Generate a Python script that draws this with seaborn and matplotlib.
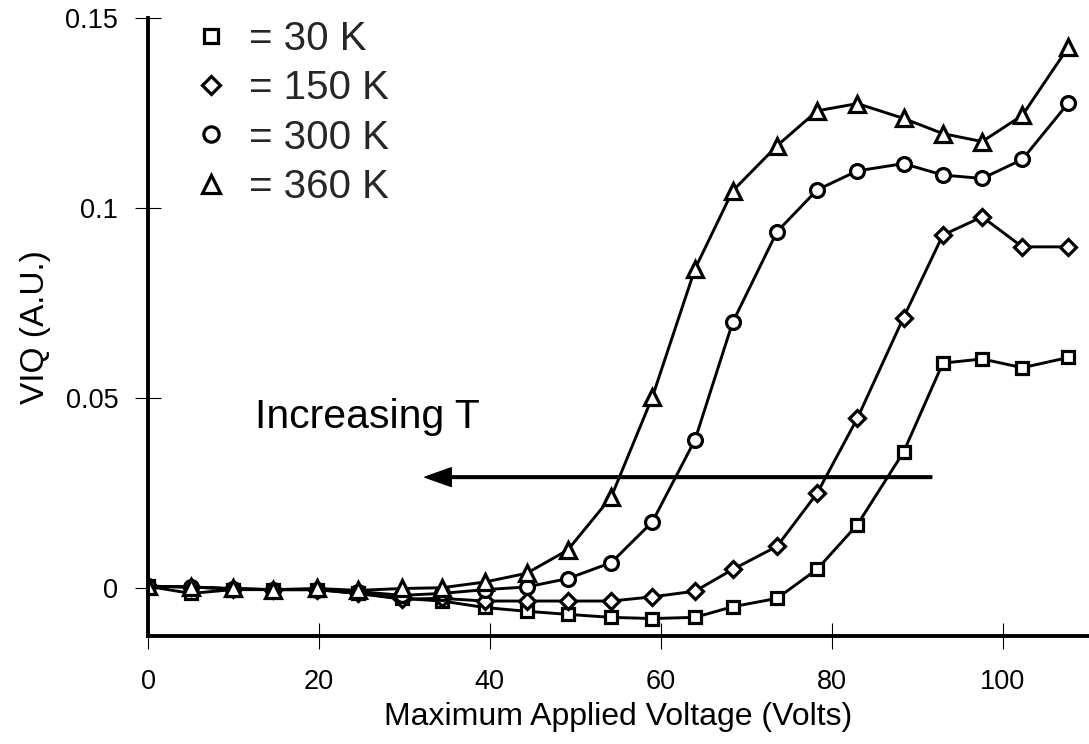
import matplotlib
matplotlib.use("Agg")
import matplotlib.pyplot as plt
import seaborn as sns
import pandas as pd

voltage = [0, 5, 9.9, 14.6, 19.8, 24.6, 29.7, 34.4, 39.4, 44.3, 49.1, 54.2,
           59.0, 64.0, 68.4, 73.6, 78.3, 83.0, 88.4, 93.0, 97.6, 102.3, 107.7]

viq_30k = [0.0004, -0.0015, -0.0005, -0.0005, -0.0005, -0.0015, -0.0028, -0.0035,
           -0.0052, -0.0062, -0.0070, -0.0078, -0.0081, -0.0078, -0.0050, -0.0028,
           0.0049, 0.0166, 0.0357, 0.0591, 0.0602, 0.0579, 0.0606]
viq_150k = [0.0004, 0.0002, -0.0003, -0.0005, -0.0005, -0.0015, -0.0030, -0.0028,
            -0.0035, -0.0035, -0.0035, -0.0035, -0.0024, -0.0009, 0.0048, 0.0109,
            0.0249, 0.0446, 0.0711, 0.0928, 0.0976, 0.0897, 0.0897]
viq_300k = [0.0004, 0.0002, -0.0003, -0.0005, -0.0005, -0.0010, -0.0020, -0.0015,
            -0.0005, 0.0002, 0.0024, 0.0066, 0.0173, 0.0389, 0.0698, 0.0937,
            0.1047, 0.1097, 0.1116, 0.1086, 0.1077, 0.1127, 0.1276]
viq_360k = [0.0004, 0.0002, -0.0002, -0.0005, -0.0002, -0.0007, -0.0002, 0.0000,
            0.0015, 0.0038, 0.0099, 0.0239, 0.0501, 0.0839, 0.1044, 0.1163,
            0.1255, 0.1274, 0.1235, 0.1195, 0.1174, 0.1243, 0.1423]

series_labels = ["= 30 K", "= 150 K", "= 300 K", "= 360 K"]
x_ticks = [0, 20, 40, 60, 80, 100]
y_ticks = [0, 0.05, 0.1, 0.15]
y_tick_labels = ["0", "0.05", "0.1", "0.15"]

sns.set_theme(style="ticks")
plt.rcParams["font.family"] = ["Liberation Sans", "DejaVu Sans"]

fig = plt.figure(figsize=(10.89, 7.44), dpi=100)
ax = fig.add_axes([148 / 1089, 1 - 636 / 744, 1 - 148 / 1089, (636 - 17.7) / 744])

styles = [("s", 9.0), ("D", 8.4), ("o", 10.0), ("^", 11.5)]
for vals, lab, (mk, ms) in zip([viq_30k, viq_150k, viq_300k, viq_360k], series_labels, styles):
    df = pd.DataFrame({"V": voltage, "VIQ": vals})
    sns.lineplot(data=df, x="V", y="VIQ", ax=ax, color="black", lw=2.1,
                 marker=mk, markersize=ms, markerfacecolor="white",
                 markeredgecolor="black", markeredgewidth=2.3, label=lab,
                 estimator=None, sort=False)

ax.set_xlim(0, 110.1)
ax.set_ylim(-0.0127, 0.15)
ax.set_xticks(x_ticks)
ax.set_xticklabels([str(t) for t in x_ticks])
ax.set_yticks(y_ticks)
ax.set_yticklabels(y_tick_labels)

for side in ["top", "right"]:
    ax.spines[side].set_visible(False)
for side in ["left", "bottom"]:
    ax.spines[side].set_linewidth(2.8)
    ax.spines[side].set_color("black")

ax.tick_params(axis="both", direction="inout", length=19, width=0.8, color="black",
               labelsize=19.5, labelcolor="black")
ax.tick_params(axis="y", pad=12)
ax.tick_params(axis="x", pad=14)

ax.set_xlabel("Maximum Applied Voltage (Volts)", fontsize=23, color="black", labelpad=5)
ax.set_ylabel("VIQ (A.U.)", fontsize=24, color="black", labelpad=10)

ax.annotate("", xy=(32.4, 0.0291), xytext=(91.7, 0.0291),
            arrowprops=dict(width=1.9, headwidth=13.5, headlength=19, color="black", shrink=0))
ax.text(12.5, 0.042, "Increasing T", fontsize=29.5, color="black", va="baseline", ha="left")

handles, labels = ax.get_legend_handles_labels()
leg = ax.legend(handles, labels, loc="upper left", bbox_to_anchor=(195 / 1089, 1 - 20 / 744),
                bbox_transform=fig.transFigure, frameon=False, fontsize=29,
                handlelength=0.8, handletextpad=0.55, labelspacing=0.28, borderpad=0,
                borderaxespad=0, markerscale=1.1)
for h in leg.legend_handles:
    h.set_linestyle("none")

fig.savefig("out.png", dpi=100, facecolor="white")
